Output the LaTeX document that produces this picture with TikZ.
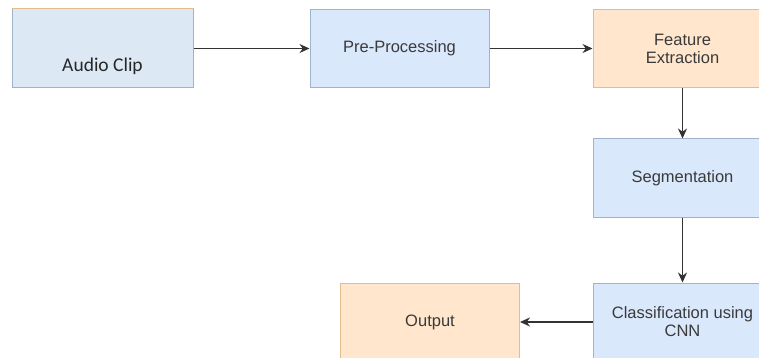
\documentclass[tikz,border=0pt]{standalone}
\usepackage{fontspec}
\setmainfont{Liberation Sans}
\newfontfamily\carlito{Carlito}
\usetikzlibrary{arrows.meta}
\definecolor{bfill}{HTML}{DAE8FC}
\definecolor{bdraw}{HTML}{9FB3CC}
\definecolor{ofill}{HTML}{FFE6CC}
\definecolor{odraw}{HTML}{E3BE8A}
\definecolor{afill}{HTML}{DCE9F4}
\definecolor{txt}{HTML}{3A3A3A}
\tikzset{
  x=1pt,y=-1pt,
  bluebox/.style={draw=bdraw, fill=bfill, line width=1pt, minimum width=179pt, minimum height=78pt, inner sep=2pt, text=txt, font=\fontsize{16.5}{18}\selectfont, align=center},
  orangebox/.style={bluebox, draw=odraw, fill=ofill},
  conn/.style={draw=black!80, line width=1.4pt, -{Stealth[length=10pt,width=9pt]}}
}
\begin{document}
\begin{tikzpicture}
\useasboundingbox (0,0) rectangle (759,358);
\clip (0,0) rectangle (759,358);
\fill[white] (0,0) rectangle (759,358);
\node[bluebox, fill=afill, minimum width=181pt, minimum height=79pt, text height=47pt, text depth=0pt, text=black!85, font=\carlito\fontsize{19.5}{21}\selectfont] (audio) at (102.5,48.5) {Audio Clip};
\draw[odraw, line width=1pt] (audio.north west) -- (audio.north east);
\node[bluebox] (pre) at (399.5,48.5) {Pre-Processing};
\node[orangebox] (feat) at (682.5,48.5) {Feature\\Extraction};
\node[bluebox] (seg) at (682.5,178) {Segmentation};
\node[bluebox] (cls) at (682.5,322) {Classification using\\CNN};
\node[orangebox] (out) at (430,322) {Output};
\draw[conn] (audio.east) -- (pre.west);
\draw[conn] (pre.east) -- (feat.west);
\draw[conn] (feat.south) -- (seg.north);
\draw[conn] (seg.south) -- (cls.north);
\draw[conn] (cls.west) -- (out.east);
\end{tikzpicture}
\end{document}
